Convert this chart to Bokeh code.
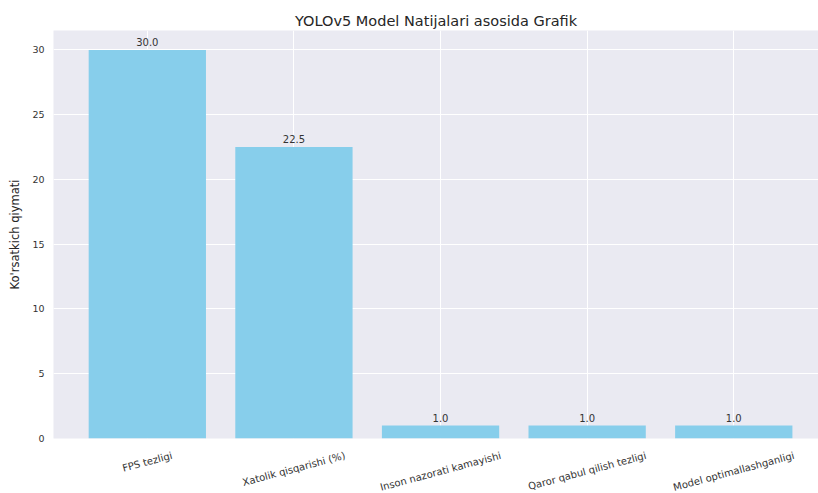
import math
from bokeh.plotting import figure
from bokeh.layouts import column
from bokeh.models import ColumnDataSource, LabelSet, Range1d, FixedTicker
from bokeh.core.properties import value
from bokeh.embed import file_html
from bokeh.resources import INLINE

# ---- data ----
categories = ["FPS tezligi", "Xatolik qisqarishi (%)", "Inson nazorati kamayishi",
              "Qaror qabul qilish tezligi", "Model optimallashganligi"]
values = [30.0, 22.5, 1.0, 1.0, 1.0]
value_labels = [f"{v:.1f}" for v in values]
y_ticks = [0, 5, 10, 15, 20, 25, 30]
y_max = 31.5
title_text = "YOLOv5 Model Natijalari asosida Grafik"
y_label = "Ko'rsatkich qiymati"

# ---- layout ----
FONT = "DejaVu Sans"
TICK_FS = 10
ANG = math.radians(15)
W, H = 818, 493
LEFT, TOP = 53, 30
FRAME_H = 408          # axes face height (y = 0 .. y_max)
GAP = 8                # white border under the axes face (room for the "0" tick label)
BOTTOM_H = H - TOP - FRAME_H
idx = list(range(len(categories)))

# approximate DejaVu Sans advance widths (em)
_W = {" ": .318, "(": .39, ")": .39, "%": .95, "a": .613, "b": .635, "d": .635, "e": .615,
      "g": .635, "h": .634, "i": .278, "j": .278, "k": .579, "l": .278, "m": .974, "n": .634,
      "o": .612, "p": .635, "q": .635, "r": .411, "s": .521, "t": .392, "u": .634, "v": .592,
      "y": .592, "z": .525, "F": .575, "P": .603, "S": .635, "X": .685, "I": .295, "Q": .787,
      "M": .863}

def text_len(s):
    return sum(_W.get(ch, 0.6) for ch in s) * TICK_FS

def label_center_depth(s):
    L = text_len(s)
    h = TICK_FS * 1.17
    return 11 + L / 2 * math.sin(ANG) + h / 2 * math.cos(ANG)

src = ColumnDataSource(dict(x=idx, top=values, vlab=value_labels))
x_range = Range1d(-0.64, 4.578)

# ---- main axes ----
p = figure(frame_width=W - LEFT, frame_height=FRAME_H, output_backend="svg", toolbar_location=None,
           x_range=x_range, y_range=Range1d(0, y_max),
           min_border_left=LEFT, min_border_right=0, min_border_top=TOP, min_border_bottom=GAP)

p.title.text = title_text
p.title.align = "center"
p.title.text_font = FONT
p.title.text_font_size = "14.5px"
p.title.text_font_style = "normal"
p.title.text_color = "#262626"
p.title.standoff = 4
p.title.offset = 5

p.background_fill_color = "#EAEAF2"
p.border_fill_color = "white"
p.outline_line_color = None

p.xgrid.ticker = FixedTicker(ticks=idx)
p.ygrid.ticker = FixedTicker(ticks=y_ticks)
for g in (p.xgrid, p.ygrid):
    g.grid_line_color = "white"
    g.grid_line_width = 1

p.vbar(x="x", top="top", width=0.8, source=src, fill_color="#87CEEB", line_color=None)

p.xaxis.visible = False
ya = p.yaxis[0]
ya.ticker = FixedTicker(ticks=y_ticks)
ya.axis_line_color = None
ya.major_tick_line_color = None
ya.minor_tick_line_color = None
ya.major_tick_out = 0
ya.major_tick_in = 0
ya.minor_tick_out = 0
ya.minor_tick_in = 0
ya.major_label_standoff = 9
ya.major_label_text_font = FONT
ya.major_label_text_font_size = "9.5px"
ya.major_label_text_color = "#333333"
ya.axis_label = y_label
ya.axis_label_text_font = FONT
ya.axis_label_text_font_size = "11.5px"
ya.axis_label_text_font_style = "normal"
ya.axis_label_text_color = "#262626"
ya.axis_label_standoff = 7

p.add_layout(LabelSet(x="x", y="top", text="vlab", source=src, y_offset=4,
                      text_align="center", text_baseline="bottom",
                      text_font=value(FONT), text_font_size=value(f"{TICK_FS}px"),
                      text_color="#333333"))

# ---- strip below the axes for the rotated category labels (y in pixels below y = 0) ----
p2 = figure(frame_width=W - LEFT, frame_height=BOTTOM_H - GAP, output_backend="svg",
            toolbar_location=None, x_range=x_range, y_range=Range1d(-BOTTOM_H, -GAP),
            min_border_left=LEFT, min_border_right=0, min_border_top=0, min_border_bottom=0)
p2.axis.visible = False
p2.grid.visible = False
p2.outline_line_color = None
p2.background_fill_color = "white"
p2.border_fill_color = "white"

lab_src = ColumnDataSource(dict(x=idx, cat=categories,
                                y=[-label_center_depth(c) for c in categories]))
p2.text(x="x", y="y", text="cat", source=lab_src, angle=ANG,
        text_align="center", text_baseline="middle",
        text_font=value(FONT), text_font_size=value(f"{TICK_FS}px"), text_color="#333333")

layout = column(p, p2, spacing=0)
open("out.html", "w").write(file_html(layout, INLINE))
